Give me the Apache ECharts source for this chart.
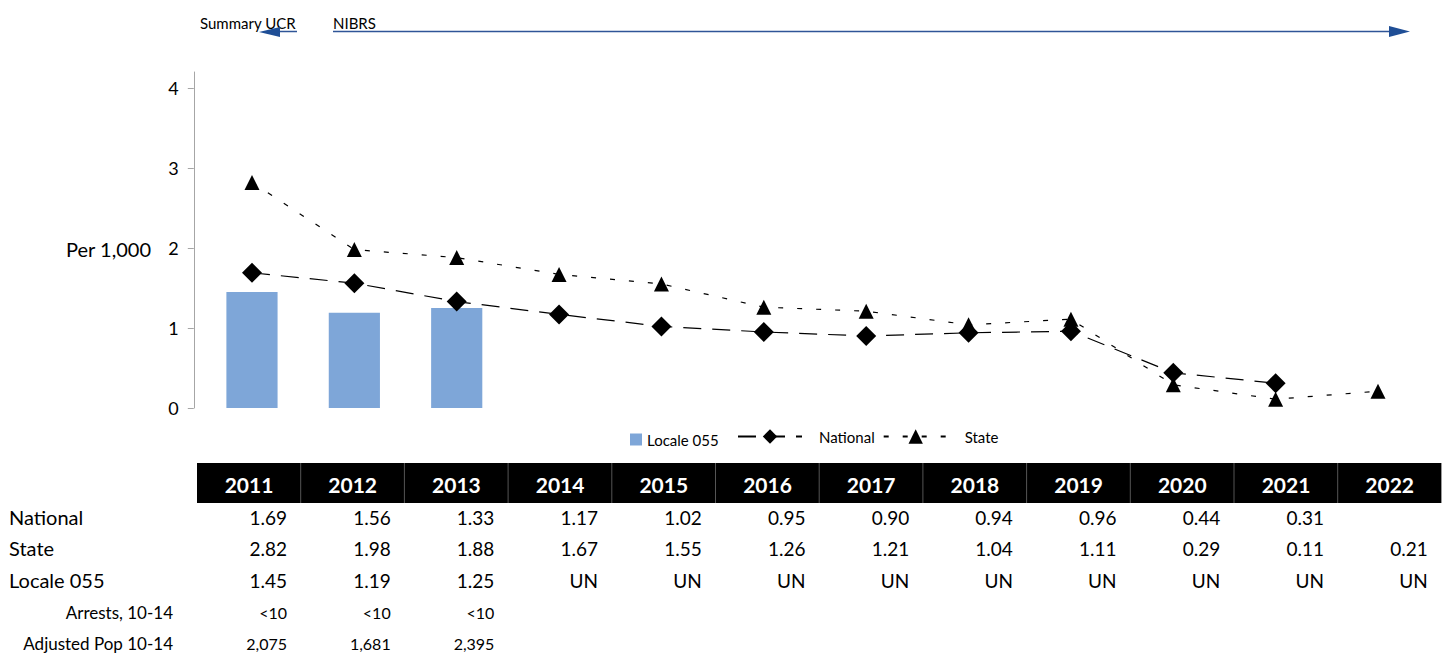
<!DOCTYPE html>
<html>
<head>
<meta charset="utf-8">
<script src="https://cdn.jsdelivr.net/npm/echarts@6/dist/echarts.min.js"></script>
<style>
  html, body { margin: 0; padding: 0; background: #fff; }
  #chart { width: 1442px; height: 654px; }
</style>
</head>
<body>
<div id="chart"></div>
<script>
var years = ['2011', '2012', '2013', '2014', '2015', '2016', '2017', '2018', '2019', '2020', '2021', '2022'];
var national = [1.69, 1.56, 1.33, 1.17, 1.02, 0.95, 0.90, 0.94, 0.96, 0.44, 0.31, null];
var state = [2.82, 1.98, 1.88, 1.67, 1.55, 1.26, 1.21, 1.04, 1.11, 0.29, 0.11, 0.21];
var locale = [1.45, 1.19, 1.25, null, null, null, null, null, null, null, null, null];
var localeText = ['1.45', '1.19', '1.25', 'UN', 'UN', 'UN', 'UN', 'UN', 'UN', 'UN', 'UN', 'UN'];
var arrests = ['<10', '<10', '<10', '', '', '', '', '', '', '', '', ''];
var adjPop = ['2,075', '1,681', '2,395', '', '', '', '', '', '', '', '', ''];
var yTicks = [0, 1, 2, 3, 4];

var FONT = 'Lato, "Open Sans", sans-serif';

var fmt = function (v) { return v == null ? '' : v.toFixed(2); };

var tableRows = [
	{ label: 'National', cells: national.map(fmt), y: 517, size: 20, cellSize: 19, small: false },
	{ label: 'State', cells: state.map(fmt), y: 548, size: 20, cellSize: 19, small: false },
	{ label: 'Locale 055', cells: localeText, y: 580, size: 20, cellSize: 19, small: false },
	{ label: 'Arrests, 10-14', cells: arrests, y: 612, size: 17, cellSize: 16, small: true },
	{ label: 'Adjusted Pop 10-14', cells: adjPop, y: 643, size: 17, cellSize: 16, small: true }
];

function buildGraphic() {
	var g = [];
	var colLeft = 197, colW = 103.7;

	// arrows at the top
	g.push({ type: 'text', style: { text: 'Summary UCR', x: 200, y: 23, textVerticalAlign: 'middle', font: '15px ' + FONT, fill: '#000' } });
	g.push({ type: 'line', shape: { x1: 297, y1: 31.5, x2: 272, y2: 31.5 }, style: { stroke: '#2f5597', lineWidth: 1.5 } });
	g.push({ type: 'polygon', shape: { points: [[259, 32], [280, 27], [280, 37]] }, style: { fill: '#1f4e96' } });
	g.push({ type: 'text', style: { text: 'NIBRS', x: 333, y: 23, textVerticalAlign: 'middle', font: '15px ' + FONT, fill: '#000' } });
	g.push({ type: 'line', shape: { x1: 333, y1: 31.5, x2: 1395, y2: 31.5 }, style: { stroke: '#2f5597', lineWidth: 1.5 } });
	g.push({ type: 'polygon', shape: { points: [[1410, 31.5], [1389, 26], [1389, 37]] }, style: { fill: '#1f4e96' } });

	g.push({ type: 'text', style: { text: 'Per 1,000', x: 151, y: 249, textAlign: 'right', textVerticalAlign: 'middle', font: '20px ' + FONT, fill: '#000' } });

	// table header
	g.push({ type: 'rect', shape: { x: colLeft, y: 463, width: colW * years.length, height: 40 }, style: { fill: '#000' } });
	years.forEach(function (yr, i) {
		if (i > 0) {
			g.push({ type: 'line', shape: { x1: colLeft + i * colW, y1: 463, x2: colLeft + i * colW, y2: 503 }, style: { stroke: '#555', lineWidth: 1 } });
		}
		g.push({ type: 'text', style: { text: yr, x: colLeft + i * colW + 52, y: 484, textAlign: 'center', textVerticalAlign: 'middle', font: 'bold 21px ' + FONT, fill: '#fff' } });
	});

	// table rows
	tableRows.forEach(function (row) {
		g.push({ type: 'text', style: {
			text: row.label, x: row.small ? 173 : 9, y: row.y,
			textAlign: row.small ? 'right' : 'left', textVerticalAlign: 'middle',
			font: row.size + 'px ' + FONT, fill: '#000'
		} });
		row.cells.forEach(function (c, i) {
			if (c === '') return;
			g.push({ type: 'text', style: {
				text: c, x: colLeft + i * colW + 90, y: row.y,
				textAlign: 'right', textVerticalAlign: 'middle',
				font: row.cellSize + 'px ' + FONT, fill: '#000'
			} });
		});
	});
	return g;
}

var chart = echarts.init(document.getElementById('chart'), null, { renderer: 'svg' });

var option = {
	animation: false,
	textStyle: { fontFamily: FONT },
	grid: { left: 200.8, right: 12.8, top: 72, bottom: 246 },
	legend: [
		{
			data: [{ name: 'Locale 055', icon: 'rect' }],
			left: 625, top: 427, itemWidth: 12, itemHeight: 12,
			textStyle: { fontSize: 15, color: '#000', fontFamily: FONT }
		},
		{
			data: ['National', 'State'],
			left: 732, top: 424, itemWidth: 64, itemHeight: 18, itemGap: 8,
			textStyle: { fontSize: 15, color: '#000', fontFamily: FONT, padding: [0, 0, 0, 12] }
		}
	],
	xAxis: {
		type: 'category',
		data: years,
		axisLine: { show: false },
		axisTick: { show: false },
		axisLabel: { show: false }
	},
	yAxis: {
		type: 'value',
		min: 0, max: 4.2, interval: 1,
		offset: 7,
		axisLine: { show: true, lineStyle: { color: '#a6a6a6' } },
		axisTick: { show: true, length: 6, lineStyle: { color: '#a6a6a6' } },
		splitLine: { show: false },
		axisLabel: {
			margin: 15, fontSize: 18, color: '#000', fontFamily: FONT,
			showMaxLabel: false,
			formatter: function (v) { return yTicks.indexOf(v) >= 0 ? String(v) : ''; }
		}
	},
	series: [
		{
			name: 'Locale 055', type: 'bar', data: locale, barWidth: '50%',
			itemStyle: { color: '#7ea6d8' }
		},
		{
			name: 'National', type: 'line', data: national,
			symbol: 'diamond', symbolSize: 20,
			itemStyle: { color: '#000' },
			lineStyle: { color: '#000', width: 1.2, type: [18, 11] },
			z: 3
		},
		{
			name: 'State', type: 'line', data: state,
			symbol: 'triangle', symbolSize: 15,
			itemStyle: { color: '#000' },
			lineStyle: { color: '#000', width: 1.2, type: [5, 14] },
			z: 4
		}
	],
	graphic: buildGraphic()
};

chart.setOption(option);
</script>
</body>
</html>
